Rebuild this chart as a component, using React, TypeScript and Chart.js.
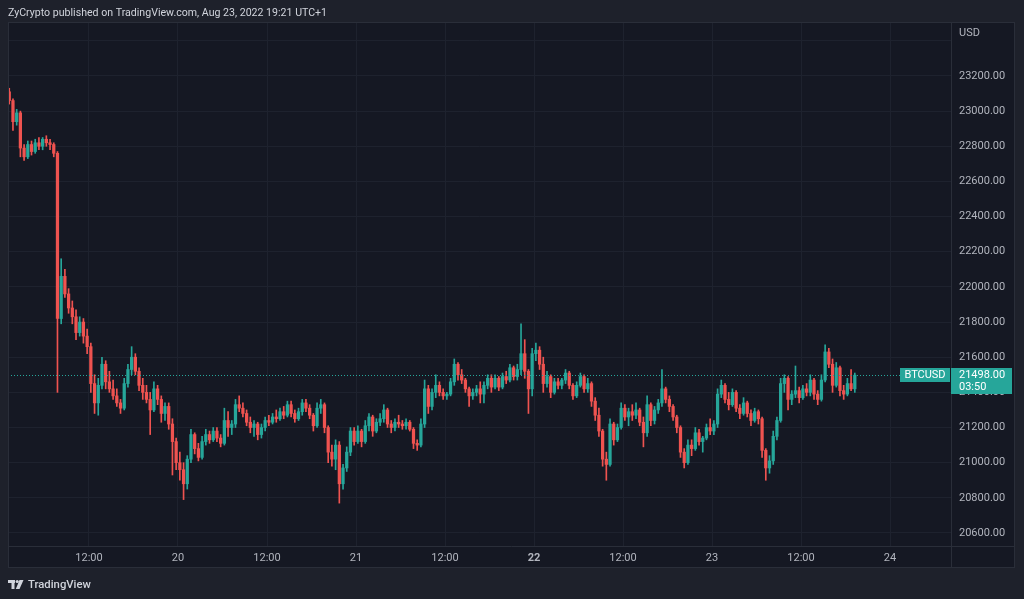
import React, { useEffect, useRef } from "react";
import { Chart, registerables } from "chart.js";

Chart.register(...registerables);

// 30-minute BTCUSD candles, first candle Aug 19 01:00 (hours counted from Aug 19 00:00)
const FIRST_HOUR = 1.25;
const CANDLE_HOURS = 0.5;

const OPEN = [
  23110,23060,22940,22990,22790,22740,22810,22770,22820,22800,
  22840,22820,22810,22760,21820,22060,21960,21880,21830,21740,
  21800,21720,21660,21450,21340,21440,21560,21460,21420,21380,
  21340,21310,21450,21530,21600,21520,21440,21400,21360,21300,
  21420,21360,21280,21320,21220,21120,21000,20960,20880,21020,
  21160,21080,21030,21120,21160,21130,21180,21140,21110,21240,
  21200,21220,21330,21310,21280,21230,21200,21220,21160,21200,
  21240,21230,21260,21250,21290,21270,21330,21280,21250,21290,
  21340,21310,21270,21210,21310,21330,21200,21060,21020,21100,
  20880,20970,21060,21180,21120,21180,21120,21210,21260,21180,
  21230,21250,21300,21220,21200,21230,21220,21210,21230,21190,
  21110,21100,21220,21420,21320,21400,21440,21400,21380,21390,
  21460,21560,21500,21470,21420,21380,21400,21420,21390,21440,
  21480,21430,21480,21430,21490,21470,21540,21490,21530,21620,
  21520,21420,21620,21640,21560,21450,21490,21400,21460,21440,
  21470,21510,21440,21380,21440,21490,21420,21450,21350,21270,
  21180,21020,20990,21220,21130,21200,21310,21260,21290,21270,
  21300,21230,21170,21330,21240,21300,21340,21420,21360,21320,
  21260,21200,21060,21000,21100,21080,21170,21120,21140,21200,
  21180,21220,21390,21440,21360,21330,21400,21310,21280,21340,
  21280,21240,21290,21250,21070,20970,21010,21150,21240,21450,
  21480,21360,21390,21410,21370,21420,21400,21470,21390,21360,
  21470,21630,21560,21440,21540,21410,21390,21450,21420,
];

const HIGH = [
  23130,23070,23010,23000,22810,22830,22830,22840,22850,22850,
  22860,22840,22820,22770,22160,22100,21990,21920,21870,21830,
  21820,21760,21680,21500,21480,21600,21580,21520,21470,21420,
  21360,21480,21560,21660,21620,21540,21480,21440,21400,21460,
  21440,21380,21340,21340,21250,21140,21060,21000,21040,21190,
  21170,21110,21150,21190,21180,21200,21200,21160,21310,21290,
  21240,21360,21380,21340,21300,21260,21240,21230,21220,21260,
  21270,21280,21300,21310,21320,21350,21350,21300,21310,21360,
  21360,21330,21280,21340,21360,21340,21210,21100,21130,21120,
  20990,21090,21200,21200,21210,21190,21240,21280,21270,21250,
  21280,21330,21310,21240,21250,21270,21240,21250,21240,21200,
  21130,21250,21470,21440,21420,21500,21460,21420,21400,21480,
  21590,21570,21530,21480,21430,21420,21440,21460,21460,21500,
  21500,21500,21490,21510,21520,21560,21550,21560,21790,21700,
  21530,21650,21680,21660,21600,21520,21500,21480,21480,21480,
  21530,21520,21450,21460,21510,21500,21480,21460,21370,21310,
  21190,21060,21250,21230,21220,21340,21330,21310,21330,21340,
  21310,21260,21380,21340,21320,21360,21530,21430,21380,21330,
  21270,21210,21080,21130,21130,21200,21190,21150,21220,21250,
  21240,21420,21470,21450,21400,21420,21410,21330,21370,21350,
  21300,21310,21300,21260,21080,21040,21180,21260,21480,21500,
  21490,21410,21550,21430,21440,21450,21500,21480,21410,21500,
  21670,21650,21590,21570,21550,21440,21480,21530,21510,
];

const LOW = [
  23040,22890,22920,22740,22720,22730,22750,22760,22780,22780,
  22800,22780,22740,21400,21790,21940,21850,21790,21700,21720,
  21680,21620,21400,21280,21270,21420,21420,21400,21360,21320,
  21280,21300,21430,21500,21500,21410,21360,21340,21160,21290,
  21330,21230,21240,21190,20930,20960,20900,20790,20850,21000,
  21050,21010,21020,21100,21110,21120,21120,21090,21100,21150,
  21160,21200,21290,21260,21210,21170,21150,21130,21140,21180,
  21210,21220,21230,21240,21250,21260,21260,21230,21240,21270,
  21290,21250,21180,21200,21280,21170,21000,20980,20960,20770,
  20850,20950,21040,21100,21110,21090,21110,21180,21150,21170,
  21210,21230,21200,21170,21180,21200,21190,21190,21180,21080,
  21070,21090,21200,21280,21300,21370,21380,21360,21360,21380,
  21440,21470,21450,21400,21320,21360,21380,21340,21340,21420,
  21400,21420,21410,21420,21450,21460,21470,21470,21500,21480,
  21280,21380,21580,21530,21400,21430,21370,21390,21420,21420,
  21450,21420,21360,21370,21430,21400,21400,21320,21240,21150,
  20980,20900,20980,21100,21120,21190,21240,21210,21240,21250,
  21210,21090,21150,21210,21220,21280,21320,21340,21290,21240,
  21170,21030,20970,20990,21040,21070,21100,21060,21130,21160,
  21160,21200,21370,21340,21300,21320,21290,21250,21270,21260,
  21210,21230,21220,21030,20900,20940,20990,21130,21230,21400,
  21300,21330,21370,21340,21360,21380,21380,21360,21330,21350,
  21460,21540,21400,21430,21380,21360,21380,21410,21400,
];

const CLOSE = [
  23060,22940,22990,22790,22740,22810,22770,22820,22800,22840,
  22820,22810,22760,21820,22060,21960,21880,21830,21740,21800,
  21720,21660,21450,21340,21440,21560,21460,21420,21380,21340,
  21310,21450,21530,21600,21520,21440,21400,21360,21300,21420,
  21360,21280,21320,21220,21120,21000,20960,20880,21020,21160,
  21080,21030,21120,21160,21130,21180,21140,21110,21240,21200,
  21220,21330,21310,21280,21230,21200,21220,21160,21200,21240,
  21230,21260,21250,21290,21270,21330,21280,21250,21290,21340,
  21310,21270,21210,21310,21330,21200,21060,21020,21100,20880,
  20970,21060,21180,21120,21180,21120,21210,21260,21180,21230,
  21250,21300,21220,21200,21230,21220,21210,21230,21190,21110,
  21100,21220,21420,21320,21400,21440,21400,21380,21390,21460,
  21560,21500,21470,21420,21380,21400,21420,21390,21440,21480,
  21430,21480,21430,21490,21470,21540,21490,21530,21620,21520,
  21420,21620,21640,21560,21450,21490,21400,21460,21440,21470,
  21510,21440,21380,21440,21490,21420,21450,21350,21270,21180,
  21020,20990,21220,21130,21200,21310,21260,21290,21270,21300,
  21230,21170,21330,21240,21300,21340,21420,21360,21320,21260,
  21200,21060,21000,21100,21080,21170,21120,21140,21200,21180,
  21220,21390,21440,21360,21330,21400,21310,21280,21340,21280,
  21240,21290,21250,21070,20970,21010,21150,21240,21450,21480,
  21360,21390,21410,21370,21420,21400,21470,21390,21360,21470,
  21630,21560,21440,21540,21410,21390,21450,21420,21498,
];

const PRICE_TICKS = [20600, 20800, 21000, 21200, 21400, 21600, 21800, 22000, 22200, 22400, 22600, 22800, 23000, 23200, 23400];
const TIME_TICKS = [12, 24, 36, 48, 60, 72, 84, 96, 108, 120];
const TIME_LABELS = ["12:00", "20", "12:00", "21", "12:00", "22", "12:00", "23", "12:00", "24"];
const BOLD_TIME_TICK = 72;
const LAST_PRICE = 21498;
const COUNTDOWN = "03:50";
const SYMBOL = "BTCUSD";
const CURRENCY = "USD";
const HEADER = "ZyCrypto published on TradingView.com, Aug 23, 2022 19:21 UTC+1";
const FOOTER = "TradingView";

const OUTER_BG = "#1e212b";
const PLOT_BG = "#151823";
const GRID = "#1e222e";
const BORDER = "#2a2e39";
const TEXT = "#b2b5be";
const UP = "#26a69a";
const DOWN = "#ef5350";
const FONT = "Roboto, 'Noto Sans', sans-serif";

export default function App() {
  const ref = useRef<HTMLCanvasElement>(null);

  useEffect(() => {
    document.body.style.margin = "0";
    document.body.style.background = OUTER_BG;
    const canvas = ref.current;
    if (!canvas) return;

    const colors = CLOSE.map((c, i) => (c >= OPEN[i] ? UP : DOWN));
    const xs = CLOSE.map((_, i) => FIRST_HOUR + i * CANDLE_HOURS);
    const bodies = xs.map((x, i) => ({ x, y: [OPEN[i], CLOSE[i]] }));
    const wicks = xs.map((x, i) => ({ x, y: [LOW[i], HIGH[i]] }));

    const framePlugin = {
      id: "frame",
      beforeDraw(chart: any) {
        const ctx = chart.ctx;
        const { width, height } = chart;
        const ca = chart.chartArea;
        const yScale = chart.scales.y;
        const xScale = chart.scales.x;
        ctx.save();
        ctx.fillStyle = OUTER_BG;
        ctx.fillRect(0, 0, width, height);
        ctx.fillStyle = PLOT_BG;
        ctx.fillRect(ca.left, ca.top, yScale.right - ca.left, xScale.bottom - ca.top);
        ctx.restore();
      },
      afterDatasetsDraw(chart: any) {
        const ctx = chart.ctx;
        const ca = chart.chartArea;
        const yScale = chart.scales.y;
        const xScale = chart.scales.x;
        const py = Math.round(yScale.getPixelForValue(LAST_PRICE)) + 0.5;
        ctx.save();
        // last price dotted line
        ctx.strokeStyle = UP;
        ctx.lineWidth = 1;
        ctx.setLineDash([1, 2]);
        ctx.beginPath();
        ctx.moveTo(ca.left, py);
        ctx.lineTo(ca.right - 51, py);
        ctx.stroke();
        ctx.setLineDash([]);
        // separators and border
        ctx.strokeStyle = BORDER;
        ctx.beginPath();
        ctx.moveTo(ca.left, ca.bottom + 0.5);
        ctx.lineTo(yScale.right, ca.bottom + 0.5);
        ctx.moveTo(ca.right + 0.5, ca.top);
        ctx.lineTo(ca.right + 0.5, xScale.bottom);
        ctx.stroke();
        ctx.strokeRect(ca.left + 0.5, ca.top + 0.5, yScale.right - ca.left - 1, xScale.bottom - ca.top - 1);
        ctx.restore();
      },
      afterDraw(chart: any) {
        const ctx = chart.ctx;
        const ca = chart.chartArea;
        const yScale = chart.scales.y;
        const py = Math.round(yScale.getPixelForValue(LAST_PRICE));
        ctx.save();
        // header
        ctx.fillStyle = "#d1d4dc";
        ctx.font = `10.6px ${FONT}`;
        ctx.textBaseline = "middle";
        ctx.textAlign = "left";
        ctx.fillText(HEADER, 8, 13);
        // currency label
        ctx.font = `11px ${FONT}`;
        ctx.fillStyle = TEXT;
        ctx.fillText(CURRENCY, ca.right + 8, 33);
        // symbol box
        ctx.fillStyle = UP;
        ctx.fillRect(ca.right - 51, py - 7, 50, 14);
        ctx.fillStyle = "#ffffff";
        ctx.textAlign = "center";
        ctx.fillText(SYMBOL, ca.right - 26, py + 0.5);
        // price box
        ctx.fillStyle = UP;
        ctx.fillRect(ca.right, py - 7, 61, 26);
        ctx.fillStyle = "#ffffff";
        ctx.textAlign = "left";
        ctx.fillText(LAST_PRICE.toFixed(2), ca.right + 8, py + 0.5);
        ctx.fillText(COUNTDOWN, ca.right + 8, py + 12.5);
        // footer logo
        ctx.fillStyle = "#d1d4dc";
        ctx.fillRect(8, 580, 7, 3);
        ctx.fillRect(11.5, 580, 3, 9);
        ctx.beginPath();
        ctx.arc(17.2, 581.5, 1.6, 0, Math.PI * 2);
        ctx.fill();
        ctx.beginPath();
        ctx.moveTo(19.5, 580);
        ctx.lineTo(23.5, 580);
        ctx.lineTo(19.5, 589);
        ctx.lineTo(15.8, 589);
        ctx.closePath();
        ctx.fill();
        ctx.font = `500 11.3px ${FONT}`;
        ctx.fillText(FOOTER, 28, 585);
        ctx.restore();
      },
    };

    const chart = new Chart(canvas, {
      type: "bar",
      data: {
        datasets: [
          { data: bodies as any, backgroundColor: colors, barThickness: 2.6, grouped: false, minBarLength: 1, order: 0 } as any,
          { data: wicks as any, backgroundColor: colors, barThickness: 1, grouped: false, order: 1 } as any,
        ],
      },
      options: {
        responsive: false,
        animation: false,
        layout: { padding: { left: 8, top: 22, right: 9, bottom: 31 } },
        plugins: { legend: { display: false }, tooltip: { enabled: false } },
        scales: {
          x: {
            type: "linear",
            min: 1.08,
            max: 128.22,
            offset: false,
            grid: { color: GRID, drawTicks: false, offset: false },
            border: { display: false },
            ticks: {
              autoSkip: false,
              maxRotation: 0,
              padding: 6,
              color: TEXT,
              font: (c: any) => ({ family: FONT, size: 11, weight: c.tick && c.tick.value === BOLD_TIME_TICK ? "bold" : "normal" }),
              callback: (_v: any, i: number) => TIME_LABELS[i],
            },
            afterBuildTicks: (s: any) => {
              s.ticks = TIME_TICKS.map((v) => ({ value: v }));
            },
            afterFit: (s: any) => {
              s.height = 22;
            },
          },
          y: {
            type: "linear",
            position: "right",
            min: 20526,
            max: 23507,
            grid: { color: GRID, drawTicks: false },
            border: { display: false },
            ticks: {
              padding: 8,
              color: TEXT,
              font: { family: FONT, size: 11 },
              callback: (v: any) => (v === 23400 ? "" : Number(v).toFixed(2)),
            },
            afterBuildTicks: (s: any) => {
              s.ticks = PRICE_TICKS.map((v) => ({ value: v }));
            },
            afterFit: (s: any) => {
              s.width = 64;
            },
          },
        },
      },
      plugins: [framePlugin],
    });

    return () => chart.destroy();
  }, []);

  return (
    <div style={{ position: "fixed", left: 0, top: 0, width: 1024, height: 599, background: OUTER_BG }}>
      <canvas ref={ref} width={1024} height={599} style={{ display: "block", width: 1024, height: 599 }} />
    </div>
  );
}
